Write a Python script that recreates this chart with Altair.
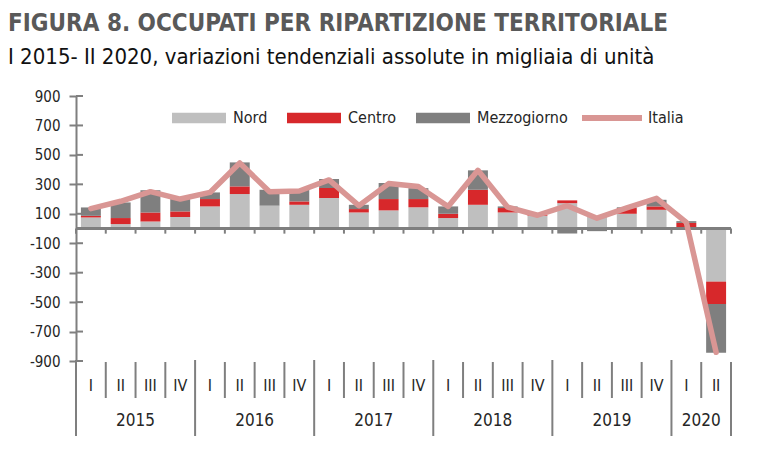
import altair as alt
import pandas as pd

# Quarterly periods
anni = ["2015"] * 4 + ["2016"] * 4 + ["2017"] * 4 + ["2018"] * 4 + ["2019"] * 4 + ["2020"] * 2
trimestri = ["I", "II", "III", "IV"] * 5 + ["I", "II"]

# Year-on-year absolute changes, thousands of employed persons
nord = [75, 30, 48, 78, 150, 234, 155, 161, 207, 109, 123, 144,
        71, 161, 109, 86, 172, 82, 100, 127, -8, -361]
centro = [11, 41, 61, 38, 50, 52, 0, 23, 68, 23, 77, 56,
          29, 102, 30, 5, 19, 0, 39, 23, 38, -152]
mezzogiorno = [57, 106, 150, 84, 45, 163, 108, 79, 61, 29, 109, 74,
               50, 132, 11, 0, -34, -18, 5, 45, 12, -331]
italia = [135, 185, 250, 200, 245, 445, 250, 255, 330, 155, 305, 285,
          150, 395, 145, 90, 155, 70, 140, 205, 42, -841]

serie = ["Nord", "Centro", "Mezzogiorno"]
colori_serie = ["#bfbfbf", "#d7282b", "#7f7f7f"]
colore_italia = "#d99694"
y_ticks = [-900, -700, -500, -300, -100, 100, 300, 500, 700, 900]

W, H = 655, 265
FONT = '"DejaVu Sans Condensed", "Liberation Sans Narrow", sans-serif'
AXIS_GRAY = "#7f7f7f"
TEXT = "#262626"

periodi = [f"{a} {t}" for a, t in zip(anni, trimestri)]

rows = []
for p, valori in zip(periodi, zip(nord, centro, mezzogiorno)):
    for k, (s, v) in enumerate(zip(serie, valori)):
        rows.append({"periodo": p, "serie": s, "valore": v, "ordine": k})
barre_df = pd.DataFrame(rows)

linea_df = pd.DataFrame({"periodo": periodi, "valore": italia, "serie": "Italia"})
periodi_df = pd.DataFrame({"periodo": periodi, "anno": anni, "trimestre": trimestri})
periodi_df["inizio"] = [i == 0 or anni[i] != anni[i - 1] for i in range(len(anni))]

# one label per year, centred on its quarters
etichette_anni = []
for a in dict.fromkeys(anni):
    idx = [i for i, v in enumerate(anni) if v == a]
    etichette_anni.append({"anno": a, "periodo": periodi[idx[0] + len(idx) // 2]})
anni_df = pd.DataFrame(etichette_anni)

x_scale = alt.Scale(domain=periodi, paddingInner=0, paddingOuter=0)
y_scale = alt.Scale(domain=[-900, 900], nice=False, zero=False)
y_axis = alt.Axis(values=y_ticks, grid=False, title=None, tickSize=7, tickWidth=2,
                  tickColor=AXIS_GRAY, domainColor=AXIS_GRAY, domainWidth=2,
                  labelFont=FONT, labelFontSize=15, labelColor=TEXT,
                  labelPadding=9, labelExpr="'' + datum.value")


def xenc(band=0.5):
    return alt.X("periodo:N", sort=periodi, scale=x_scale, axis=None, title=None,
                 bandPosition=band)


def yenc(field):
    return alt.Y(field, scale=y_scale, axis=y_axis, title=None)


barre = alt.Chart(barre_df).mark_bar(width=alt.RelativeBandSize(0.67)).encode(
    x=alt.X("periodo:N", sort=periodi, scale=x_scale, axis=None, title=None),
    y=alt.Y("valore:Q", stack="zero", scale=y_scale, axis=y_axis, title=None),
    fill=alt.Fill("serie:N", scale=alt.Scale(domain=serie, range=colori_serie),
                  legend=alt.Legend(orient="none", legendX=96, legendY=-5,
                                    direction="horizontal", title=None,
                                    symbolType="M-1,-0.19H1V0.19H-1Z", symbolSize=2916,
                                    symbolStrokeWidth=0, symbolOpacity=1,
                                    labelOffset=7, columnPadding=19,
                                    labelFont=FONT, labelFontSize=16, labelColor=TEXT)),
    order=alt.Order("ordine:Q", sort="ascending"),
)

zero = alt.Chart(periodi_df).mark_rule(color=AXIS_GRAY, strokeWidth=2).encode(
    y=alt.YDatum(0, scale=y_scale, axis=y_axis)
)

zero_ticks = alt.Chart(periodi_df).mark_rule(color=AXIS_GRAY, strokeWidth=2).encode(
    x=xenc(0), y=alt.YDatum(0, scale=y_scale, axis=y_axis), y2=alt.datum(-35)
)
zero_tick_end = alt.Chart(periodi_df.tail(1)).mark_rule(color=AXIS_GRAY, strokeWidth=2).encode(
    x=xenc(1), y=alt.YDatum(0, scale=y_scale, axis=y_axis), y2=alt.datum(-35)
)

inner_ticks = alt.Chart(pd.DataFrame({"v": y_ticks})).mark_rule(
    color=AXIS_GRAY, strokeWidth=2
).encode(y=yenc("v:Q"), x=alt.value(0), x2=alt.value(7))

linea = alt.Chart(linea_df).mark_line(
    strokeWidth=5.5, strokeJoin="round", strokeCap="round"
).encode(
    x=xenc(),
    y=yenc("valore:Q"),
    stroke=alt.Stroke("serie:N", scale=alt.Scale(domain=["Italia"], range=[colore_italia]),
                      legend=alt.Legend(orient="none", legendX=503, legendY=-11,
                                        direction="horizontal", title=None,
                                        symbolType="stroke", symbolSize=3600,
                                        symbolStrokeWidth=6, labelOffset=3,
                                        labelFont=FONT, labelFontSize=16, labelColor=TEXT)),
)

# two-level category axis below the plot
sep_trim = alt.Chart(periodi_df).transform_filter("!datum.inizio").mark_rule(
    color=AXIS_GRAY, strokeWidth=2
).encode(x=xenc(0), y=alt.value(H + 1), y2=alt.value(H + 37))

sep_anni = alt.Chart(periodi_df).transform_filter("datum.inizio").mark_rule(
    color=AXIS_GRAY, strokeWidth=2
).encode(x=xenc(0), y=alt.value(H - 1), y2=alt.value(H + 75))

sep_fine = alt.Chart(periodi_df.tail(1)).mark_rule(color=AXIS_GRAY, strokeWidth=2).encode(
    x=xenc(1), y=alt.value(H + 1), y2=alt.value(H + 75)
)

lab_trim = alt.Chart(periodi_df).mark_text(
    font=FONT, fontSize=16, color=TEXT, baseline="middle"
).encode(x=xenc(), y=alt.value(H + 25), text="trimestre:N")

lab_anni = alt.Chart(anni_df).mark_text(
    font=FONT, fontSize=17, color=TEXT, baseline="middle"
).encode(x=xenc(0), y=alt.value(H + 60), text="anno:N")

chart = alt.layer(
    barre, zero, zero_ticks, zero_tick_end, inner_ticks, linea,
    sep_trim, sep_anni, sep_fine, lab_trim, lab_anni,
).properties(
    width=W,
    height=H,
    autosize=alt.AutoSizeParams(type="none"),
    padding={"left": 76, "top": 96, "right": 767 - 76 - W, "bottom": 467 - 96 - H},
    title=alt.TitleParams(
        text="FIGURA 8. OCCUPATI PER RIPARTIZIONE TERRITORIALE",
        subtitle="I 2015- II 2020, variazioni tendenziali assolute in migliaia di unità",
        anchor="start", frame="group", dx=-68, offset=17,
        font=FONT, fontSize=24, fontWeight="bold", color="#595959",
        subtitleFont=FONT, subtitleFontSize=22, subtitleColor="#111111",
        subtitlePadding=11,
    ),
).configure_view(stroke=None)

chart.save("out.html", embed_options={"renderer": "svg", "actions": False})
